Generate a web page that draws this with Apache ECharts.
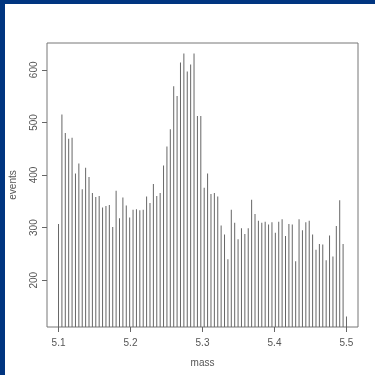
<!DOCTYPE html>
<html>
<head>
<meta charset="utf-8">
<script src="https://cdn.jsdelivr.net/npm/echarts@6/dist/echarts.min.js"></script>
<style>
  html, body { margin: 0; padding: 0; background: #fff; }
  #chart { width: 375px; height: 375px; }
</style>
</head>
<body>
<div id="chart"></div>
<script>
// events per mass bin (86 bins from 5.1 to 5.5)
const events = [
  307, 515, 480, 469, 471, 403, 422, 373, 414, 396,
  366, 358, 360, 338, 341, 343, 301, 370, 318, 357,
  342, 319, 334, 335, 333, 334, 359, 347, 383, 360,
  366, 418, 454, 487, 569, 550, 614, 631, 597, 610,
  631, 512, 512, 376, 403, 364, 366, 359, 304, 287,
  240, 334, 309, 278, 299, 288, 299, 353, 326, 313,
  309, 311, 306, 310, 290, 311, 316, 284, 307, 306,
  236, 316, 295, 310, 313, 287, 258, 269, 268, 238,
  285, 245, 303, 352, 269, 131
]
const massStart = 5.1
const massEnd = 5.5
const mass = events.map((_, i) => massStart + i * (massEnd - massStart) / (events.length - 1))

const xTicks = [5.1, 5.2, 5.3, 5.4, 5.5]
const yTicks = [200, 300, 400, 500, 600]

const myChart = echarts.init(document.getElementById('chart'))

const labelStyle = {
  color: '#555',
  fontFamily: 'Liberation Sans',
  fontSize: 10
}

const option = {
  animation: false,
  backgroundColor: '#fff',
  graphic: [
    // blue frame of the slide
    { type: 'rect', shape: { x: 0, y: 0, width: 375, height: 4 }, style: { fill: '#003580' } },
    { type: 'rect', shape: { x: 0, y: 0, width: 5, height: 375 }, style: { fill: '#003580' } }
  ],
  grid: {
    left: 45,
    right: 17,
    top: 43,
    bottom: 48,
    show: true,
    borderColor: '#777',
    borderWidth: 1
  },
  xAxis: {
    type: 'value',
    min: 5.084,
    max: 5.516,
    name: 'mass',
    nameLocation: 'middle',
    nameGap: 31,
    nameTextStyle: labelStyle,
    axisLine: { show: false },
    splitLine: { show: false },
    axisTick: {
      show: true,
      length: 5,
      customValues: xTicks,
      lineStyle: { color: '#666' }
    },
    axisLabel: Object.assign({
      customValues: xTicks,
      margin: 11,
      formatter: v => v.toFixed(1)
    }, labelStyle)
  },
  yAxis: {
    type: 'value',
    min: 111,
    max: 651,
    name: 'events',
    nameLocation: 'middle',
    nameGap: 29,
    nameRotate: 90,
    nameTextStyle: labelStyle,
    axisLine: { show: false },
    splitLine: { show: false },
    axisTick: {
      show: true,
      length: 5,
      customValues: yTicks,
      lineStyle: { color: '#666' }
    },
    axisLabel: Object.assign({
      customValues: yTicks,
      rotate: 90,
      margin: 8
    }, labelStyle)
  },
  series: [
    {
      type: 'bar',
      barWidth: 1,
      itemStyle: { color: '#666' },
      data: mass.map((m, i) => [m, events[i]])
    }
  ]
}
myChart.setOption(option)
</script>
</body>
</html>
